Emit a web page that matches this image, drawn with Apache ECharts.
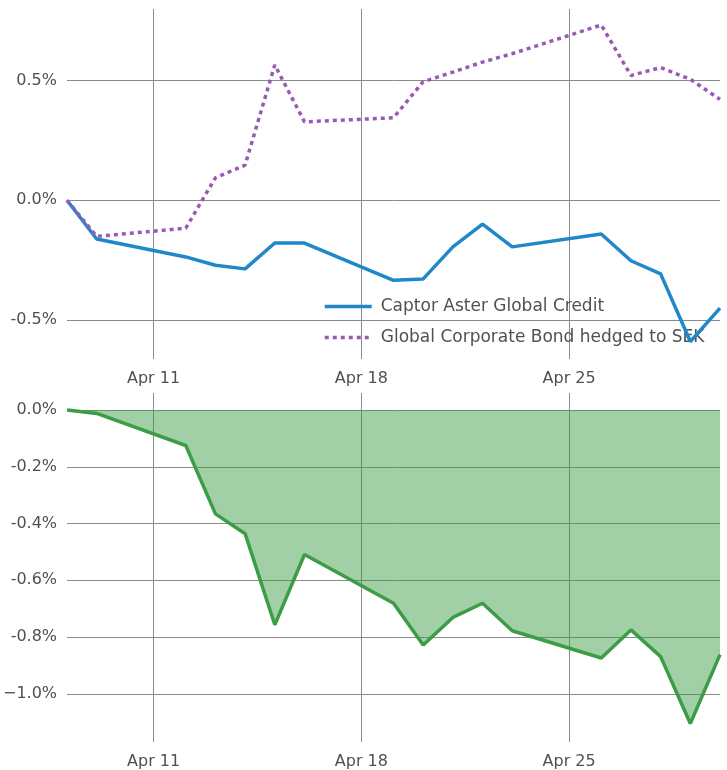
<!DOCTYPE html>
<html>
<head>
<meta charset="utf-8">
<script src="https://cdn.jsdelivr.net/npm/echarts@6/dist/echarts.min.js"></script>
<style>
  html, body { margin: 0; padding: 0; background: #fff; }
  #main { width: 727px; height: 770px; }
</style>
</head>
<body>
<div id="main"></div>
<script>
// trading days, April 2021
var dates = ['2021-04-08', '2021-04-09', '2021-04-12', '2021-04-13', '2021-04-14', '2021-04-15', '2021-04-16',
    '2021-04-19', '2021-04-20', '2021-04-21', '2021-04-22', '2021-04-23',
    '2021-04-26', '2021-04-27', '2021-04-28', '2021-04-29', '2021-04-30'];

var captor = [0, -0.162, -0.237, -0.272, -0.287, -0.179, -0.179,
    -0.335, -0.329, -0.195, -0.100, -0.195,
    -0.141, -0.253, -0.308, -0.591, -0.451];

var benchmark = [0, -0.151, -0.117, 0.094, 0.147, 0.566, 0.328,
    0.345, 0.496, 0.536, 0.578, 0.613,
    0.733, 0.522, 0.555, 0.506, 0.422];

var diff = [0, -0.012, -0.125, -0.366, -0.436, -0.757, -0.509,
    -0.681, -0.828, -0.731, -0.681, -0.778,
    -0.874, -0.775, -0.869, -1.105, -0.862];

var xTicks = ['2021-04-11T00:00:00+02:00', '2021-04-18T00:00:00+02:00', '2021-04-25T00:00:00+02:00'];
var xTickLabels = ['Apr 11', 'Apr 18', 'Apr 25'];
var topYTicks = [-0.5, 0, 0.5];
var bottomYTicks = [0, -0.2, -0.4, -0.6, -0.8, -1.0];

var seriesNames = ['Captor Aster Global Credit', 'Global Corporate Bond hedged to SEK'];

var FONT = 'DejaVu Sans';
var TXT = '#505050';
var GRID = '#8a8a8a';

function t(d) {
    return Date.parse(d + 'T00:00:00Z');
}
var tickTimes = xTicks.map(function (d) { return Date.parse(d); });

function pairs(vals) {
    return dates.map(function (d, i) { return [t(d), vals[i]]; });
}

function pct(v) {
    if (v === -1) return '\u22121.0%';
    return v.toFixed(1) + '%';
}

function xAxisCfg(idx) {
    return {
        type: 'value',
        gridIndex: idx,
        min: t(dates[0]),
        max: t(dates[dates.length - 1]),
        axisLine: { show: false },
        axisTick: { show: false, customValues: tickTimes },
        splitLine: { show: true, lineStyle: { color: GRID, width: 1 } },
        axisLabel: {
            customValues: tickTimes,
            margin: 12,
            color: TXT,
            fontFamily: FONT,
            fontSize: 16,
            formatter: function (v) {
                var i = tickTimes.indexOf(v);
                return i >= 0 ? xTickLabels[i] : '';
            }
        }
    };
}

function yAxisCfg(idx, min, max, ticks) {
    return {
        type: 'value',
        gridIndex: idx,
        min: min,
        max: max,
        axisLine: { show: false },
        axisTick: { show: false, customValues: ticks },
        splitLine: { show: true, lineStyle: { color: GRID, width: 1 } },
        axisLabel: {
            customValues: ticks,
            margin: 10,
            color: TXT,
            fontFamily: FONT,
            fontSize: 16,
            formatter: pct
        }
    };
}

var chart = echarts.init(document.getElementById('main'));

chart.setOption({
    animation: false,
    backgroundColor: '#fff',
    grid: [
        { left: 67, right: 7, top: 9, height: 350 },
        { left: 67, right: 7, top: 393, height: 350 }
    ],
    xAxis: [xAxisCfg(0), xAxisCfg(1)],
    yAxis: [
        yAxisCfg(0, -0.664, 0.8, topYTicks),
        yAxisCfg(1, -1.17, 0.06, bottomYTicks)
    ],
    legend: {
        orient: 'vertical',
        left: 323,
        top: 298,
        z: 1,
        padding: 0,
        itemWidth: 47,
        itemHeight: 16,
        itemGap: 14,
        itemStyle: { opacity: 0 },
        lineStyle: { width: 3.5 },
        data: seriesNames,
        textStyle: {
            color: TXT,
            fontFamily: FONT,
            fontSize: 17,
            lineHeight: 16,
            padding: [0, 0, 0, 4]
        }
    },
    series: [
        {
            name: seriesNames[0],
            type: 'line',
            xAxisIndex: 0,
            yAxisIndex: 0,
            data: pairs(captor),
            symbol: 'none',
            z: 2,
            lineStyle: { color: '#1f88c9', width: 3.5 },
            itemStyle: { color: '#1f88c9' }
        },
        {
            name: seriesNames[1],
            type: 'line',
            xAxisIndex: 0,
            yAxisIndex: 0,
            data: pairs(benchmark),
            symbol: 'none',
            z: 3,
            lineStyle: { color: '#9b59b6', width: 3.5, type: [4, 4] },
            itemStyle: { color: '#9b59b6' }
        },
        {
            name: 'Difference',
            type: 'line',
            xAxisIndex: 1,
            yAxisIndex: 1,
            data: pairs(diff),
            symbol: 'none',
            lineStyle: { color: '#3d9c46', width: 3.5 },
            itemStyle: { color: '#3d9c46' },
            areaStyle: { color: '#3d9c46', opacity: 0.48 }
        }
    ]
});
</script>
</body>
</html>
